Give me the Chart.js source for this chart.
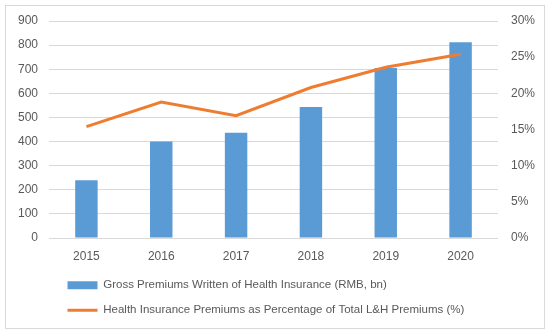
<!DOCTYPE html>
<html>
<head>
<meta charset="utf-8">
<script src="https://cdn.jsdelivr.net/npm/chart.js@4"></script>
<style>
    html, body { margin: 0; padding: 0; background: #fff; }
    #wrap { position: relative; width: 550px; height: 335px; }
    #frame { position: absolute; left: 5px; top: 5px; width: 538px; height: 322px; border: 1px solid #d9d9d9; pointer-events: none; }
</style>
</head>
<body>
<div id="wrap">
    <canvas id="healthChart"></canvas>
    <div id="frame"></div>
</div>
<script>
// data
var years = ['2015', '2016', '2017', '2018', '2019', '2020'];
var grossPremiums = [240, 400, 437, 543, 705, 812];
var premiumShare = [0.154, 0.188, 0.169, 0.208, 0.236, 0.254];
var leftTicks = [0, 100, 200, 300, 400, 500, 600, 700, 800, 900];
var rightTicks = ['0%', '5%', '10%', '15%', '20%', '25%', '30%'];

var tickFont = { family: 'Liberation Sans', size: 12 };
var legendFont = { family: 'Liberation Sans', size: 11.5 };
var textColor = '#595959';

// push the legend to the right so both rows start under the plot like in Excel
var legendShift = {
    id: 'legendShift',
    afterLayout: function(chart) {
        if (chart.legend) chart.legend.left = 54;
    }
};

new Chart(document.getElementById('healthChart').getContext('2d'), {
    type: 'bar',
    data: {
        labels: years,
        datasets: [{
            label: 'Gross Premiums Written of Health Insurance (RMB, bn)',
            data: grossPremiums,
            backgroundColor: '#5b9bd5',
            borderWidth: 0,
            barPercentage: 0.3,
            categoryPercentage: 1,
            pointStyle: 'rect',
            yAxisID: 'y',
            order: 2
        }, {
            type: 'line',
            label: 'Health Insurance Premiums as Percentage of Total L&H Premiums (%)',
            data: premiumShare,
            borderColor: '#ed7d31',
            backgroundColor: '#ed7d31',
            borderWidth: 3,
            pointRadius: 0,
            pointStyle: 'line',
            tension: 0,
            yAxisID: 'y1',
            order: 1
        }]
    },
    options: {
        responsive: true,
        maintainAspectRatio: false,
        animation: false,
        layout: { padding: { top: 21, bottom: 9, left: 0, right: 0 } },
        plugins: {
            legend: {
                position: 'bottom',
                align: 'start',
                labels: {
                    usePointStyle: true,
                    pointStyleWidth: 30,
                    boxHeight: 8,
                    padding: 13.5,
                    color: textColor,
                    font: legendFont,
                    sort: function(a, b) { return a.datasetIndex - b.datasetIndex; }
                }
            },
            tooltip: { enabled: false }
        },
        scales: {
            x: {
                grid: { display: false, drawTicks: false },
                border: { display: false },
                ticks: { color: textColor, font: tickFont, padding: 11 },
                afterFit: function(scale) { scale.height = 28; }
            },
            y: {
                position: 'left',
                min: 0,
                max: 900,
                grid: { color: '#d9d9d9', drawTicks: false },
                border: { display: false },
                ticks: {
                    stepSize: 100,
                    color: textColor,
                    font: tickFont,
                    padding: 11,
                    callback: function(value) {
                        return leftTicks.indexOf(value) >= 0 ? String(value) : '';
                    }
                },
                afterFit: function(scale) { scale.width = 49; }
            },
            y1: {
                position: 'right',
                min: 0,
                max: 0.3,
                grid: { display: false, drawTicks: false },
                border: { display: false },
                ticks: {
                    stepSize: 0.05,
                    color: textColor,
                    font: tickFont,
                    padding: 13,
                    callback: function(value) {
                        return rightTicks[Math.round(value / 0.05)];
                    }
                },
                afterFit: function(scale) { scale.width = 52; }
            }
        }
    },
    plugins: [legendShift]
});
</script>
</body>
</html>
